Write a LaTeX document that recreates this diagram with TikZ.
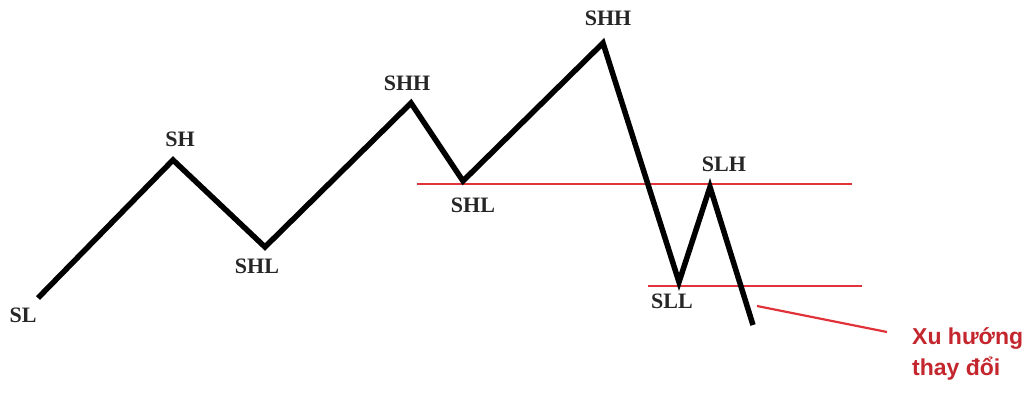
\documentclass[tikz,border=0pt]{standalone}
\usepackage{fontspec}
\setmainfont{Liberation Serif}
\newfontfamily\notefont{Liberation Sans}
\usepackage{xcolor}
\usetikzlibrary{calc, positioning}

\definecolor{lvlred}{HTML}{E0343A}
\definecolor{notered}{HTML}{C4262E}

\begin{document}
\begin{tikzpicture}[x=1pt, y=-1pt,
    swing/.style={line width=5.5pt, black, line join=miter},
    lvl/.style={line width=2.6pt, lvlred},
    pt/.style={font=\fontsize{22}{24}\selectfont\bfseries, text=black!85, inner sep=0pt}]
    \useasboundingbox (0,0) rectangle (1034,392);

    % 1. Các đỉnh / đáy của đường giá
    \coordinate (sl)   at (38,298);
    \coordinate (sh)   at (173,160);
    \coordinate (shl)  at (265,247);
    \coordinate (shh)  at (411,103);
    \coordinate (shlb) at (463,181);
    \coordinate (shhb) at (603,43);
    \coordinate (sll)  at (679,282);
    \coordinate (slh)  at (710,187);
    \coordinate (fin)  at (753,325);

    % 2. Các đường ngưỡng màu đỏ
    \coordinate (hiA) at (417,184);
    \coordinate (hiB) at (852,184);
    \coordinate (loA) at (648,286);
    \coordinate (loB) at (862,286);
    \draw[lvl] (hiA) -- (hiB);
    \draw[lvl] (loA) -- (loB);

    % 3. Đường giá màu đen
    \draw[swing] (sl) -- (sh) -- (shl) -- (shh) -- (shlb) -- (shhb)
                 -- (sll) -- (slh) -- (fin);

    % 4. Nhãn
    \node[pt] (tSL)   at (23,315)  {SL};
    \node[pt] (tSH)   at (180,139) {SH};
    \node[pt] (tSHL)  at (257,266) {SHL};
    \node[pt] (tSHH)  at (407,83)  {SHH};
    \node[pt] (tSHLb) at (473,205) {SHL};
    \node[pt] (tSHHb) at (608,18)  {SHH};
    \node[pt] (tSLH)  at (724,164) {SLH};
    \node[pt] (tSLL)  at (672,301) {SLL};

    % 5. Chú thích
    \node[anchor=north west, align=left, inner sep=0pt, text=notered,
          font=\notefont\bfseries\fontsize{23}{31}\selectfont] (note) at (912,327)
          {Xu hướng\\thay đổi};
    \coordinate (ptr) at (757,306);
    \draw[line width=2.2pt, lvlred] (ptr) -- (887,332);
\end{tikzpicture}
\end{document}
